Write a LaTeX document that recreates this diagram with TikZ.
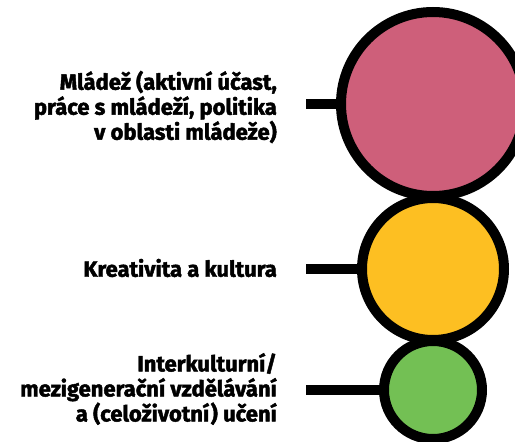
\documentclass[tikz,border=0pt]{standalone}
\usepackage{fontspec}
\setmainfont{Fira Sans}[BoldFeatures={FakeBold=2}]
\definecolor{cpink}{HTML}{CE5F7A}
\definecolor{cyellow}{HTML}{FDBF22}
\definecolor{cgreen}{HTML}{73C054}
\begin{document}
\begin{tikzpicture}[x=1pt,y=-1pt,
  bubble/.style={circle,draw=black,line width=10pt,inner sep=0pt},
  lbl/.style={anchor=east,align=right,font=\bfseries\fontsize{22}{25}\selectfont,inner sep=0pt},
  conn/.style={line width=10pt}]
\useasboundingbox (0,0) rectangle (515,442);
\node[bubble,fill=cpink,minimum size=184pt] (pink) at (433,104) {};
\node[bubble,fill=cyellow,minimum size=142pt] (yellow) at (433,269) {};
\node[bubble,fill=cgreen,minimum size=98pt] (green) at (433,390) {};
\coordinate (p0) at (306,104);
\coordinate (y0) at (306,269);
\coordinate (g0) at (306,390);
\draw[conn] (p0) -- (pink.west);
\draw[conn] (y0) -- (yellow.west);
\draw[conn] (g0) -- (green.west);
\node[lbl] (tp) at (277,107) {Mládež (aktivní účast,\\práce s mládeží, politika\\v oblasti mládeže)};
\node[lbl] (ty) at (277,268) {Kreativita a kultura};
\node[lbl] (tg) at (277,389) {Interkulturní/\\mezigenerační vzdělávání\\a (celoživotní) učení};
\end{tikzpicture}
\end{document}
